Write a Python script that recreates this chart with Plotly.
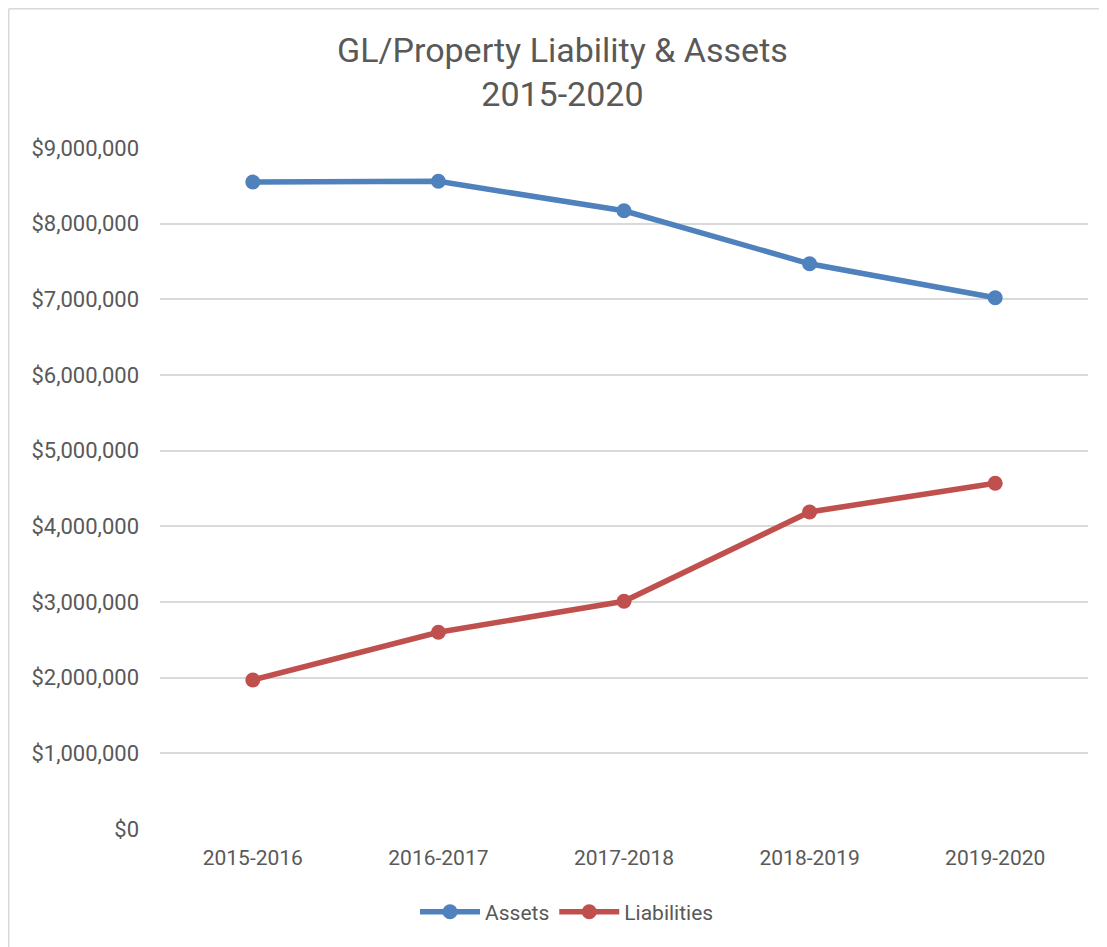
import plotly.graph_objects as go

# values
years = ['2015-2016', '2016-2017', '2017-2018', '2018-2019', '2019-2020']
assets = [8550000, 8560000, 8170000, 7470000, 7020000]
liabilities = [1970000, 2600000, 3010000, 4190000, 4570000]
tick_vals = [0, 1000000, 2000000, 3000000, 4000000, 5000000, 6000000, 7000000, 8000000, 9000000]
tick_text = ['$0', '$1,000,000', '$2,000,000', '$3,000,000', '$4,000,000',
             '$5,000,000', '$6,000,000', '$7,000,000', '$8,000,000', '$9,000,000']

font_fam = 'Liberation Sans Narrow, Roboto, Open Sans, sans-serif'

fig = go.Figure()
fig.add_trace(go.Scatter(x=years, y=assets, name='Assets', mode='lines+markers',
                         line=dict(color='#4F81BD', width=5.5),
                         marker=dict(color='#4F81BD', size=15)))
fig.add_trace(go.Scatter(x=years, y=liabilities, name='Liabilities', mode='lines+markers',
                         line=dict(color='#C0504D', width=5.5),
                         marker=dict(color='#C0504D', size=15)))

# page body adds an 8px offset, so the figure is a bit smaller than the window
fig.update_layout(
    width=1099, height=939,
    margin=dict(l=152, r=19, t=140, b=118, autoexpand=False),
    paper_bgcolor='white', plot_bgcolor='white',
    font=dict(family=font_fam, color='#595959', size=22),
    xaxis=dict(type='category', range=[-0.5, 4.5], showgrid=False, showline=False,
               ticks='', tickfont=dict(size=21), ticklabelstandoff=14, automargin=False),
    yaxis=dict(range=[0, 9000000], tickvals=tick_vals, ticktext=tick_text,
               showgrid=True, gridcolor='#D9D9D9', gridwidth=1.5, zeroline=False,
               ticks='', ticklabelstandoff=20, tickfont=dict(size=22), automargin=False),
    legend=dict(orientation='h', x=0.4386, xanchor='center', y=-0.122, yanchor='middle',
                font=dict(size=21), itemwidth=60),
    showlegend=True,
)

# chart title
fig.add_annotation(text='GL/Property Liability & Assets<br>2015-2020', xref='paper', yref='paper',
                   x=0.434, y=1.1116, xanchor='center', yanchor='middle', showarrow=False,
                   font=dict(size=34, color='#595959'))

# light border on the left and top of the chart area
fig.add_shape(type='line', xref='paper', yref='paper',
              x0=-0.1630, x1=-0.1630, y0=-0.1733, y1=1.2045,
              line=dict(color='#D9D9D9', width=1.5))
fig.add_shape(type='line', xref='paper', yref='paper',
              x0=-0.1630, x1=1.0205, y0=1.2045, y1=1.2045,
              line=dict(color='#D9D9D9', width=1.5))

fig.write_html("out.html")
